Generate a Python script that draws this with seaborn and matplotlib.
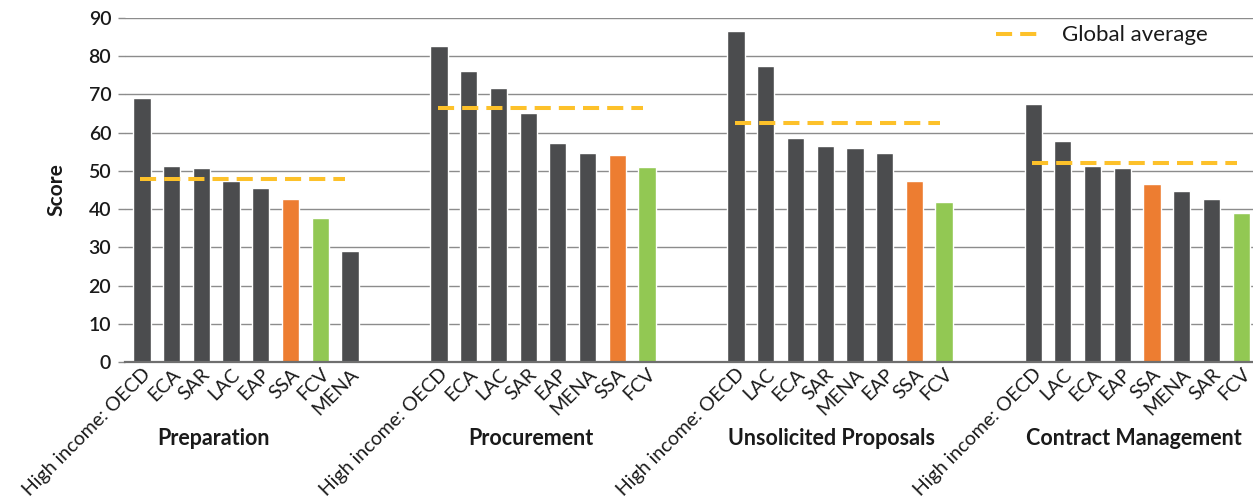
import matplotlib
matplotlib.use("Agg")
import matplotlib.pyplot as plt
from matplotlib.lines import Line2D
import seaborn as sns
import pandas as pd

# Scores by region for each PPP stage
groups = ["Preparation", "Procurement", "Unsolicited Proposals", "Contract Management"]
prep_regions = ["High income: OECD", "ECA", "SAR", "LAC", "EAP", "SSA", "FCV", "MENA"]
prep_scores = [68.9, 51.3, 50.7, 47.3, 45.4, 42.7, 37.7, 29.1]
proc_regions = ["High income: OECD", "ECA", "LAC", "SAR", "EAP", "MENA", "SSA", "FCV"]
proc_scores = [82.6, 76.0, 71.5, 65.0, 57.2, 54.6, 54.1, 51.0]
usp_regions = ["High income: OECD", "LAC", "ECA", "SAR", "MENA", "EAP", "SSA", "FCV"]
usp_scores = [86.5, 77.4, 58.5, 56.5, 55.9, 54.6, 47.4, 41.9]
cm_regions = ["High income: OECD", "LAC", "ECA", "EAP", "SSA", "MENA", "SAR", "FCV"]
cm_scores = [67.5, 57.8, 51.3, 50.7, 46.6, 44.7, 42.7, 39.1]
global_avg = [48.0, 66.3, 62.4, 52.0]

region_lists = [prep_regions, proc_regions, usp_regions, cm_regions]
score_lists = [prep_scores, proc_scores, usp_scores, cm_scores]

palette = {"other": "#4b4c4e", "SSA": "#ed7d31", "FCV": "#92c853"}
avg_color = "#fdc12a"
avg_dashes = (4.0, 2.0)

rows = []
for g, (regs, vals) in enumerate(zip(region_lists, score_lists)):
    for i, (r, v) in enumerate(zip(regs, vals)):
        kind = r if r in ("SSA", "FCV") else "other"
        rows.append({"slot": g * 10 + i, "region": r, "score": v, "kind": kind, "group": groups[g]})
df = pd.DataFrame(rows)

sns.set_theme(style="white")
plt.rcParams["font.family"] = ["Lato", "DejaVu Sans"]

fig = plt.figure(figsize=(12.53, 5.01), dpi=100)
ax = fig.add_axes([0.0998, 0.2765, 0.9002, 0.6885])

sns.barplot(data=df, x="slot", y="score", hue="kind", palette=palette,
            native_scale=True, width=0.58, dodge=False, legend=False,
            saturation=1, ax=ax, zorder=3)

# Dashed global-average line across each group
for g, avg in enumerate(global_avg):
    ax.plot([g * 10 - 0.05, g * 10 + 6.85], [avg, avg], color=avg_color,
            lw=2.9, dashes=avg_dashes, zorder=4)

ax.set_xlim(-0.57, 37.4)
ax.set_ylim(0, 90)
ax.set_yticks(range(0, 91, 10))
ax.yaxis.grid(True, color="#8c8c8c", lw=1.0)
ax.set_axisbelow(True)
for s in ["top", "right", "left"]:
    ax.spines[s].set_visible(False)
ax.spines["bottom"].set_color("#6f6f6f")
ax.spines["bottom"].set_linewidth(1.6)
ax.spines["bottom"].set_zorder(5)

ax.tick_params(axis="y", length=5, width=1, color="#8c8c8c", labelsize=14,
               labelcolor="#1a1a1a", pad=5, left=True)
for lab in ax.get_yticklabels():
    lab.set_fontweight("semibold")
ax.tick_params(axis="x", length=0, labelsize=14, labelcolor="#1a1a1a", pad=2)
ax.set_xticks(df["slot"].tolist())
ax.set_xticklabels(df["region"].tolist(), rotation=45, ha="right",
                   rotation_mode="anchor")
ax.set_xlabel("")
ax.set_ylabel("Score", fontsize=15, fontweight="bold", color="#1a1a1a", labelpad=16)

# Stage names beneath the region labels
group_x = [2.4, 13.1, 23.2, 33.4]
for name, gx in zip(groups, group_x):
    ax.text(gx, -19.9, name, ha="center", va="center", fontsize=15.5,
            fontweight="bold", color="#1a1a1a", transform=ax.transData,
            clip_on=False)

handle = Line2D([0], [0], color=avg_color, lw=2.9, dashes=avg_dashes)
leg = ax.legend([handle], ["Global average"], loc="upper right",
                bbox_to_anchor=(0.978, 1.035), frameon=False, fontsize=16,
                handlelength=2.1, handletextpad=0.9)
for t in leg.get_texts():
    t.set_color("#1a1a1a")

fig.savefig("out.png", dpi=100, facecolor="white")
